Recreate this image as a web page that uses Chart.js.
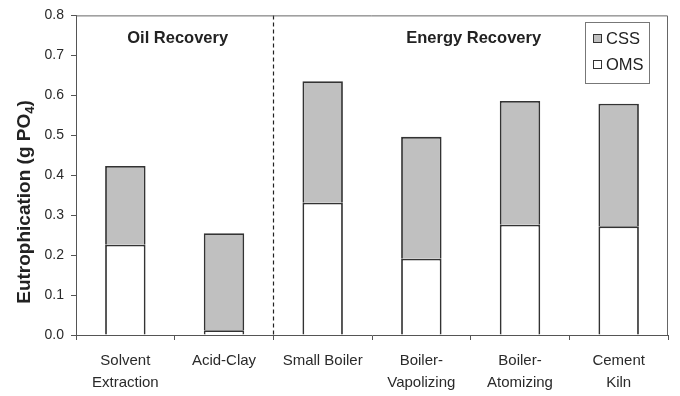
<!DOCTYPE html>
<html>
<head>
<meta charset="utf-8">
<script src="https://cdn.jsdelivr.net/npm/chart.js@4"></script>
<style>
  html, body { margin: 0; padding: 0; background: #fff; }
  #wrap { width: 680px; height: 396px; position: relative; }
</style>
</head>
<body>
<div id="wrap"><canvas id="c"></canvas></div>
<script>
// Categories (multi-line labels) and stacked series values, g PO4
const categories = [
  ["Solvent", "Extraction"],
  "Acid-Clay",
  "Small Boiler",
  ["Boiler-", "Vapolizing"],
  ["Boiler-", "Atomizing"],
  ["Cement", "Kiln"]
];
const omsValues = [0.226, 0.012, 0.331, 0.191, 0.276, 0.272];
const cssValues = [0.197, 0.243, 0.304, 0.305, 0.310, 0.307];

// Process groups, given as first/last category index
const groupNames = ["Oil Recovery", "Energy Recovery"];
const groupFirst = [0, 2];
const groupLast = [1, 5];

const yTicks = { min: 0, max: 0.8, step: 0.1 };
const yTitle = ["Eutrophication (g PO", "4", ")"];

const FONT = '"Liberation Sans", Arial, sans-serif';
const INK = '#222';

// Frame around the plot, dashed group separator, group headings, legend and axis title
const decorations = {
  id: 'decorations',
  beforeDatasetsDraw(chart) {
    const { ctx, chartArea: a, scales: { x } } = chart;
    ctx.save();
    // dashed divider between the two groups
    for (let g = 1; g < groupFirst.length; g++) {
      const px = (x.getPixelForValue(groupFirst[g] - 1) + x.getPixelForValue(groupFirst[g])) / 2;
      ctx.strokeStyle = '#222';
      ctx.lineWidth = 1.2;
      ctx.setLineDash([4, 3]);
      ctx.beginPath();
      ctx.moveTo(Math.round(px) + 0.5, a.top);
      ctx.lineTo(Math.round(px) + 0.5, a.bottom);
      ctx.stroke();
    }
    ctx.setLineDash([]);
    // group headings
    ctx.fillStyle = INK;
    ctx.font = 'bold 16.5px ' + FONT;
    ctx.textAlign = 'center';
    ctx.textBaseline = 'middle';
    groupNames.forEach((name, i) => {
      let sum = 0;
      for (let k = groupFirst[i]; k <= groupLast[i]; k++) sum += x.getPixelForValue(k);
      const cx = sum / (groupLast[i] - groupFirst[i] + 1);
      ctx.fillText(name, cx + 3, a.top + 23);
    });
    ctx.restore();
  },
  afterDraw(chart) {
    const { ctx, chartArea: a } = chart;
    ctx.save();
    // top and right border of the plot frame
    ctx.strokeStyle = '#666';
    ctx.lineWidth = 1;
    ctx.beginPath();
    ctx.moveTo(a.left, a.top + 0.5);
    ctx.lineTo(a.right - 0.5, a.top + 0.5);
    ctx.lineTo(a.right - 0.5, a.bottom);
    ctx.stroke();

    // legend box in the upper right corner
    const items = chart.data.datasets.slice().reverse();
    const bx = 585, by = 22, bw = 64, bh = 61;
    ctx.fillStyle = '#fff';
    ctx.fillRect(bx, by, bw, bh);
    ctx.strokeStyle = '#777';
    ctx.strokeRect(bx + 0.5, by + 0.5, bw, bh);
    ctx.font = '16.5px ' + FONT;
    ctx.textAlign = 'left';
    ctx.textBaseline = 'middle';
    items.forEach((ds, i) => {
      const cy = by + 16 + i * 26;
      ctx.fillStyle = ds.backgroundColor;
      ctx.fillRect(bx + 8, cy - 4, 9, 9);
      ctx.strokeStyle = '#333';
      ctx.strokeRect(bx + 8.5, cy - 3.5, 8, 8);
      ctx.fillStyle = INK;
      ctx.fillText(ds.label, bx + 21, cy + 1);
    });

    // rotated y-axis title with subscript
    ctx.translate(24, 202);
    ctx.rotate(-Math.PI / 2);
    ctx.fillStyle = INK;
    const big = 'bold 19px ' + FONT, small = 'bold 13px ' + FONT;
    ctx.font = big;
    const w0 = ctx.measureText(yTitle[0]).width;
    const w2 = ctx.measureText(yTitle[2]).width;
    ctx.font = small;
    const w1 = ctx.measureText(yTitle[1]).width;
    let px = -(w0 + w1 + w2) / 2;
    ctx.textBaseline = 'alphabetic';
    ctx.font = big;
    ctx.fillText(yTitle[0], px, 6);
    px += w0;
    ctx.font = small;
    ctx.fillText(yTitle[1], px, 10);
    px += w1;
    ctx.font = big;
    ctx.fillText(yTitle[2], px, 6);
    ctx.restore();
  }
};

const barStyle = {
  borderColor: '#333',
  borderWidth: 1.8,
  barPercentage: 0.41,
  categoryPercentage: 1.0
};

new Chart(document.getElementById('c'), {
  type: 'bar',
  data: {
    labels: categories,
    datasets: [
      Object.assign({ label: 'OMS', data: omsValues, backgroundColor: '#ffffff', borderSkipped: 'bottom' }, barStyle),
      Object.assign({ label: 'CSS', data: cssValues, backgroundColor: '#c0c0c0', borderSkipped: 'bottom' }, barStyle)
    ]
  },
  options: {
    responsive: true,
    maintainAspectRatio: false,
    animation: false,
    layout: { padding: { top: 14, right: 12, left: 0, bottom: 0 } },
    plugins: {
      legend: { display: false },
      tooltip: { enabled: false }
    },
    scales: {
      x: {
        stacked: true,
        offset: true,
        grid: { offset: true, drawOnChartArea: false, drawTicks: true, tickLength: 5, color: '#555' },
        border: { color: '#555', width: 1 },
        ticks: {
          color: '#2a2a2a',
          font: { family: FONT, size: 15, lineHeight: 1.45 },
          padding: 10,
          maxRotation: 0,
          autoSkip: false
        },
        afterFit(s) { s.height = 61; }
      },
      y: {
        stacked: true,
        min: yTicks.min,
        max: yTicks.max,
        grid: { drawOnChartArea: false, drawTicks: true, tickLength: 5, color: '#555' },
        border: { color: '#555', width: 1 },
        ticks: {
          stepSize: yTicks.step,
          color: '#2a2a2a',
          font: { family: FONT, size: 14 },
          padding: 7,
          callback: v => Number(v).toFixed(1)
        },
        afterFit(s) { s.width = 76; }
      }
    }
  },
  plugins: [decorations]
});
</script>
</body>
</html>
